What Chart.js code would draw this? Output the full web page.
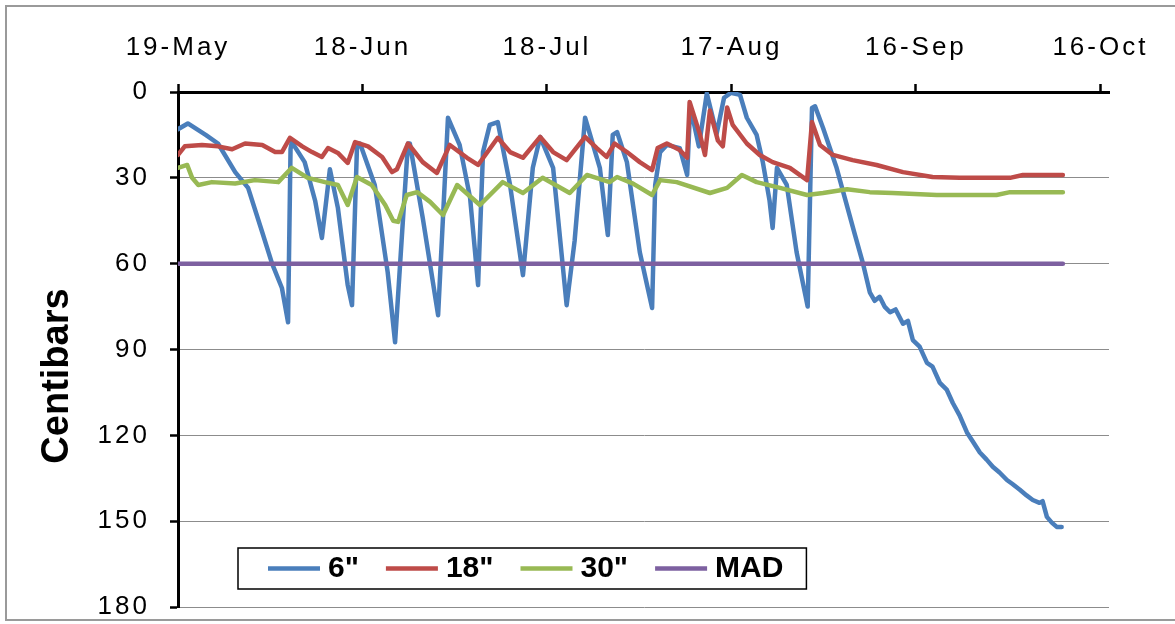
<!DOCTYPE html>
<html>
<head>
<meta charset="utf-8">
<title>Soil moisture tension</title>
<script src="https://cdn.jsdelivr.net/npm/chart.js@4.4.0/dist/chart.umd.min.js"></script>
<style>
  html, body { margin: 0; padding: 0; background: #ffffff; }
  #wrap { width: 1175px; height: 624px; }
  canvas { display: block; }
</style>
</head>
<body>
<div id="wrap"><canvas id="chart" width="1175" height="624"></canvas></div>
<script>
// Date axis: days counted from 19-May, labelled every 30 days
const tickDays = [0, 30, 60, 90, 120, 150];
const tickLabels = ['19-May', '18-Jun', '18-Jul', '17-Aug', '16-Sep', '16-Oct'];
const yTickValues = [0, 30, 60, 90, 120, 150, 180];
const axisTitle = 'Centibars';
const seriesLabels = ['6"', '18"', '30"', 'MAD'];

// 6" sensor (centibars)
const days6 = [0,1.6,4.5,6.5,9.3,11.4,13.7,15.3,16.9,17.9,
  18.3,18.5,20.6,22.3,23.4,24.7,26.0,27.6,28.3,29.1,
  29.6,32.0,34.1,35.3,36.6,37.4,37.7,39.8,42.3,43.9,
  45.8,47.5,48.8,49.6,50.7,52.0,54.0,56.1,57.7,58.9,
  61.0,63.2,64.5,66.2,68.6,69.9,70.7,71.4,73.0,75.1,
  77.1,77.6,78.4,79.5,81.6,82.8,83.3,84.7,86.0,87.6,88.8,89.9,
  91.4,92.5,94.1,95.1,96.2,96.7,97.4,99.0,100.6,102.4,
  103.1,103.6,104.9,107.1,110.1,111.4,112.5,113.3,114.1,114.9,
  115.8,116.7,117.9,118.7,119.5,120.6,121.8,122.7,123.9,125.0,
  126.0,127.1,128.3,129.2,130.4,131.5,132.5,133.6,134.8,135.7,
  136.9,138.0,139.0,140.1,140.6,141.3,142.1,142.9,143.7];
const cb6 = [13,11,15,18,28,33.5,49,60,68.5,80.5,
  20,17.5,24.5,38,51,27,40.5,67.5,74.5,19.6,
  18,32.5,63,87.5,44,18,18,44,78,9,
  18.5,37,67.5,21,11.5,10.5,32.5,64,26.5,15.7,
  26.5,74.5,52,9,26.5,50,15,14,24.5,56,
  75.5,32.5,21,18.5,19.6,29,5,19,0.5,14.5,2,0.3,
  1,9,15,24.5,38,47.5,26.5,32.5,56,75,
  5.6,5,12.6,26.5,50,60,70,73,71.6,75,
  77,76,81,80,86.7,89,94.7,96,101.7,104,
  108.7,113,119,122,126,128.5,131,133,135.6,137,
  139,141,142.6,143.6,143,148.5,150.5,152,152];

// 18" sensor
const days18 = [0,1.1,3.9,6.5,8.8,10.9,13.7,15.8,16.9,18.2,
  20.2,21.8,23.4,24.4,26.0,27.6,28.8,30.9,33.2,34.8,
  35.6,37.4,39.8,42.1,44.2,47.0,48.8,52.0,54.0,56.1,
  58.9,61.0,63.2,66.2,68.1,69.7,71.0,73.0,75.1,77.1,
  78.0,79.5,81.6,82.8,83.2,84.9,85.7,86.5,87.8,88.6,
  89.3,90.2,92.5,94.6,96.7,99.5,102.3,103.1,104.4,106.5,
  109.7,113.6,117.9,122.7,127.1,135.3,137.4,143.9];
const cb18 = [22,19,18.5,19,20,18,18.5,21,21,16,
  19,21,22.7,19.6,21.3,24.8,17.5,19,22.7,28,
  27,18,24.5,28.3,18.5,23,25.5,16,21,23,
  15.7,21,23.8,15.7,19.6,22.7,18,21,24.5,27.3,
  19.6,18,20.3,23,3.5,15,22,6.5,17,19,
  5.4,11.5,18,22,24.5,26.5,30.8,10.5,18.5,22,
  23.8,25.5,28,29.7,30,30,29,29];

// 30" sensor
const days30 = [0,1.5,2.3,3.3,5.5,9.3,12.5,16.3,18.5,21.1,
  23.9,26.0,27.6,29.1,31.5,33.7,35.0,35.8,37.2,38.9,
  41.0,43.1,45.4,49.1,52.8,56.1,59.3,63.7,66.5,70.2,
  71.4,74.0,77.1,78.4,81.1,86.5,89.3,91.7,94.1,97.9,
  102.3,104.9,108.8,112.5,116.2,123.4,133.1,135.3,143.9];
const cb30 = [26.5,25.5,30,32.5,31.5,32,30.8,31.5,26.5,30,
  31.5,32.5,39.5,29.7,32.5,39.5,45,45.4,36,35,
  38.4,43,32.5,39.5,31.5,35.3,30,35.3,29,31.5,
  29.7,32,36,30.8,31.5,35.3,33.5,29,31.5,33.5,
  36,35.3,34,35,35.3,36,36,35,35];

// Management allowable depletion
const daysMad = [0, 143.9];
const cbMad = [60, 60];

const seriesColors = ['#4A7EBB', '#BE4B48', '#98B954', '#7D60A0'];

const FONT = '"Liberation Sans", Arial, Helvetica, sans-serif';

function toPoints(xs, ys) {
  return xs.map((x, i) => ({ x: x, y: ys[i] }));
}

// White page with a thin grey frame; tick text gets a little extra tracking
const framePlugin = {
  id: 'frame',
  beforeDraw(chart) {
    const ctx = chart.ctx;
    ctx.save();
    ctx.fillStyle = '#ffffff';
    ctx.fillRect(0, 0, chart.width, chart.height);
    ctx.strokeStyle = '#9a9a9a';
    ctx.lineWidth = 2;
    ctx.beginPath();
    ctx.moveTo(1175, 6);
    ctx.lineTo(6, 6);
    ctx.lineTo(6, 620);
    ctx.lineTo(1175, 620);
    ctx.stroke();
    ctx.restore();
    ctx.letterSpacing = '3px';
  }
};

// Boxed legend inside the plot, plus the rotated axis title
const legendPlugin = {
  id: 'boxLegend',
  afterDraw(chart) {
    const ctx = chart.ctx;
    ctx.save();
    ctx.letterSpacing = '0px';

    // axis title
    ctx.save();
    ctx.translate(58, 376);
    ctx.rotate(-Math.PI / 2);
    ctx.font = 'bold 38px ' + FONT;
    ctx.fillStyle = '#000000';
    ctx.textAlign = 'center';
    ctx.textBaseline = 'middle';
    ctx.fillText(axisTitle, 0, 0);
    ctx.restore();

    // legend
    ctx.font = 'bold 30px ' + FONT;
    const boxLeft = 238, boxTop = 548, boxBottom = 589;
    const lineLen = 52, lineGap = 8, itemGap = 27, padL = 30, padR = 23;
    const midY = 568.5;
    const items = chart.data.datasets.map(ds => ({
      label: ds.label, color: ds.borderColor, w: ctx.measureText(ds.label).width
    }));
    let total = padL;
    items.forEach((it, i) => {
      total += lineLen + lineGap + it.w + (i < items.length - 1 ? itemGap : 0);
    });
    total += padR;

    ctx.fillStyle = '#ffffff';
    ctx.fillRect(boxLeft, boxTop, total, boxBottom - boxTop);
    ctx.strokeStyle = '#000000';
    ctx.lineWidth = 1.5;
    ctx.strokeRect(boxLeft, boxTop, total, boxBottom - boxTop);

    let x = boxLeft + padL;
    items.forEach(it => {
      ctx.strokeStyle = it.color;
      ctx.lineWidth = 4.5;
      ctx.lineCap = 'butt';
      ctx.beginPath();
      ctx.moveTo(x, midY);
      ctx.lineTo(x + lineLen, midY);
      ctx.stroke();
      ctx.fillStyle = '#000000';
      ctx.textAlign = 'left';
      ctx.textBaseline = 'middle';
      ctx.fillText(it.label, x + lineLen + lineGap, midY);
      x += lineLen + lineGap + it.w + itemGap;
    });
    ctx.restore();
  }
};

const seriesData = [
  toPoints(days6, cb6),
  toPoints(days18, cb18),
  toPoints(days30, cb30),
  toPoints(daysMad, cbMad)
];

const datasets = seriesLabels.map((label, i) => ({
  label: label,
  data: seriesData[i],
  borderColor: seriesColors[i],
  backgroundColor: seriesColors[i],
  borderWidth: 4.5,
  pointRadius: 0,
  tension: 0,
  borderJoinStyle: 'round',
  borderCapStyle: 'round',
  fill: false,
  order: seriesLabels.length - i
}));

new Chart(document.getElementById('chart'), {
  type: 'line',
  data: { datasets: datasets },
  plugins: [framePlugin, legendPlugin],
  options: {
    responsive: false,
    animation: false,
    devicePixelRatio: 1,
    layout: { padding: { left: 0, top: 0, right: 66, bottom: 0 } },
    plugins: {
      legend: { display: false },
      tooltip: { enabled: false },
      title: { display: false }
    },
    scales: {
      x: {
        type: 'linear',
        position: 'top',
        min: 0,
        max: 151.4,
        afterBuildTicks: s => { s.ticks = tickDays.map(v => ({ value: v })); },
        afterFit: s => { s.height = 92; },
        ticks: {
          autoSkip: false,
          maxRotation: 0,
          padding: 21,
          color: '#000000',
          font: { family: FONT, size: 26 },
          callback: v => tickLabels[tickDays.indexOf(v)]
        },
        grid: {
          drawOnChartArea: false,
          drawTicks: true,
          tickLength: 8,
          tickColor: '#000000',
          tickWidth: 2.5
        },
        border: { display: true, color: '#000000', width: 3 }
      },
      y: {
        type: 'linear',
        reverse: true,
        min: 0,
        max: 180,
        afterBuildTicks: s => { s.ticks = yTickValues.map(v => ({ value: v })); },
        afterFit: s => { s.width = 178; s.paddingBottom = 17; },
        ticks: {
          padding: 20,
          color: '#000000',
          font: { family: FONT, size: 26 }
        },
        grid: {
          color: '#8c8c8c',
          lineWidth: 1,
          tickLength: 8,
          tickColor: '#000000',
          tickWidth: 2.5
        },
        border: { display: true, color: '#000000', width: 3 }
      }
    }
  }
});
</script>
</body>
</html>
